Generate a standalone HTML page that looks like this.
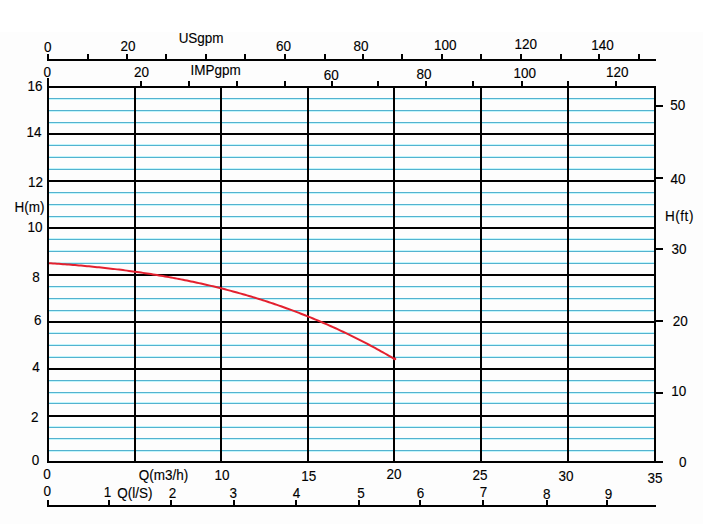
<!DOCTYPE html>
<html><head><meta charset="utf-8"><style>
html,body{margin:0;padding:0;background:#fff;}
body{width:703px;height:524px;overflow:hidden;}
svg{display:block;}
text{font-family:"Liberation Sans",Arial,sans-serif;font-size:13.5px;fill:#000;text-anchor:middle;stroke:#000;stroke-width:0.12px;}
</style></head><body>
<svg width="703" height="524" viewBox="0 0 703 524">
<rect x="0" y="0" width="703" height="524" fill="#fff"/>
<rect x="0" y="32" width="703" height="492" fill="#fdfdfd"/>
<g shape-rendering="crispEdges">
<rect x="49" y="99" width="605" height="1" fill="#c2f5fb"/>
<rect x="49" y="111" width="605" height="1" fill="#c2f5fb"/>
<rect x="49" y="123" width="605" height="1" fill="#c2f5fb"/>
<rect x="49" y="144" width="605" height="1" fill="#c2f5fb"/>
<rect x="49" y="156" width="605" height="1" fill="#c2f5fb"/>
<rect x="49" y="168" width="605" height="1" fill="#c2f5fb"/>
<rect x="49" y="193" width="605" height="1" fill="#c2f5fb"/>
<rect x="49" y="205" width="605" height="1" fill="#c2f5fb"/>
<rect x="49" y="217" width="605" height="1" fill="#c2f5fb"/>
<rect x="49" y="238" width="605" height="1" fill="#c2f5fb"/>
<rect x="49" y="250" width="605" height="1" fill="#c2f5fb"/>
<rect x="49" y="262" width="605" height="1" fill="#c2f5fb"/>
<rect x="49" y="287" width="605" height="1" fill="#c2f5fb"/>
<rect x="49" y="299" width="605" height="1" fill="#c2f5fb"/>
<rect x="49" y="311" width="605" height="1" fill="#c2f5fb"/>
<rect x="49" y="332" width="605" height="1" fill="#c2f5fb"/>
<rect x="49" y="344" width="605" height="1" fill="#c2f5fb"/>
<rect x="49" y="356" width="605" height="1" fill="#c2f5fb"/>
<rect x="49" y="381" width="605" height="1" fill="#c2f5fb"/>
<rect x="49" y="393" width="605" height="1" fill="#c2f5fb"/>
<rect x="49" y="402" width="605" height="1" fill="#c2f5fb"/>
<rect x="49" y="426" width="605" height="1" fill="#c2f5fb"/>
<rect x="49" y="439" width="605" height="1" fill="#c2f5fb"/>
<rect x="49" y="451" width="605" height="1" fill="#c2f5fb"/>
<rect x="49" y="98" width="605" height="1" fill="#52b2cf"/>
<rect x="49" y="110" width="605" height="1" fill="#52b2cf"/>
<rect x="49" y="122" width="605" height="1" fill="#52b2cf"/>
<rect x="49" y="145" width="605" height="1" fill="#52b2cf"/>
<rect x="49" y="157" width="605" height="1" fill="#52b2cf"/>
<rect x="49" y="169" width="605" height="1" fill="#52b2cf"/>
<rect x="49" y="192" width="605" height="1" fill="#52b2cf"/>
<rect x="49" y="204" width="605" height="1" fill="#52b2cf"/>
<rect x="49" y="216" width="605" height="1" fill="#52b2cf"/>
<rect x="49" y="239" width="605" height="1" fill="#52b2cf"/>
<rect x="49" y="251" width="605" height="1" fill="#52b2cf"/>
<rect x="49" y="263" width="605" height="1" fill="#52b2cf"/>
<rect x="49" y="286" width="605" height="1" fill="#52b2cf"/>
<rect x="49" y="298" width="605" height="1" fill="#52b2cf"/>
<rect x="49" y="310" width="605" height="1" fill="#52b2cf"/>
<rect x="49" y="333" width="605" height="1" fill="#52b2cf"/>
<rect x="49" y="345" width="605" height="1" fill="#52b2cf"/>
<rect x="49" y="357" width="605" height="1" fill="#52b2cf"/>
<rect x="49" y="380" width="605" height="1" fill="#52b2cf"/>
<rect x="49" y="392" width="605" height="1" fill="#52b2cf"/>
<rect x="49" y="403" width="605" height="1" fill="#52b2cf"/>
<rect x="49" y="427" width="605" height="1" fill="#52b2cf"/>
<rect x="49" y="438" width="605" height="1" fill="#52b2cf"/>
<rect x="49" y="450" width="605" height="1" fill="#52b2cf"/>
<rect x="47" y="86" width="609" height="2" fill="#000"/>
<rect x="47" y="133" width="609" height="2" fill="#000"/>
<rect x="47" y="180" width="609" height="2" fill="#000"/>
<rect x="47" y="227" width="609" height="2" fill="#000"/>
<rect x="47" y="274" width="609" height="2" fill="#000"/>
<rect x="47" y="321" width="609" height="2" fill="#000"/>
<rect x="47" y="368" width="609" height="2" fill="#000"/>
<rect x="47" y="415" width="609" height="2" fill="#000"/>
<rect x="47" y="461" width="616" height="2" fill="#000"/>
<rect x="47" y="86" width="2" height="377" fill="#000"/>
<rect x="134" y="86" width="2" height="377" fill="#000"/>
<rect x="220" y="86" width="2" height="377" fill="#000"/>
<rect x="307" y="86" width="2" height="377" fill="#000"/>
<rect x="393" y="86" width="2" height="377" fill="#000"/>
<rect x="480" y="86" width="2" height="377" fill="#000"/>
<rect x="567" y="86" width="2" height="377" fill="#000"/>
<rect x="654" y="86" width="2" height="377" fill="#000"/>
<rect x="47" y="78" width="2" height="8" fill="#000"/>
<rect x="140" y="81" width="2" height="5" fill="#000"/>
<rect x="188" y="81" width="2" height="5" fill="#000"/>
<rect x="236" y="81" width="2" height="5" fill="#000"/>
<rect x="284" y="81" width="2" height="5" fill="#000"/>
<rect x="331" y="81" width="2" height="5" fill="#000"/>
<rect x="377" y="81" width="2" height="5" fill="#000"/>
<rect x="425" y="81" width="2" height="5" fill="#000"/>
<rect x="472" y="81" width="2" height="5" fill="#000"/>
<rect x="521" y="81" width="2" height="5" fill="#000"/>
<rect x="567" y="81" width="2" height="5" fill="#000"/>
<rect x="615" y="81" width="2" height="5" fill="#000"/>
<rect x="47" y="59" width="609" height="2" fill="#000"/>
<rect x="47" y="54" width="2" height="5" fill="#000"/>
<rect x="87" y="54" width="2" height="5" fill="#000"/>
<rect x="126" y="54" width="2" height="5" fill="#000"/>
<rect x="165" y="54" width="2" height="5" fill="#000"/>
<rect x="205" y="54" width="2" height="5" fill="#000"/>
<rect x="244" y="54" width="2" height="5" fill="#000"/>
<rect x="284" y="54" width="2" height="5" fill="#000"/>
<rect x="324" y="54" width="2" height="5" fill="#000"/>
<rect x="362" y="54" width="2" height="5" fill="#000"/>
<rect x="401" y="54" width="2" height="5" fill="#000"/>
<rect x="441" y="54" width="2" height="5" fill="#000"/>
<rect x="480" y="54" width="2" height="5" fill="#000"/>
<rect x="520" y="54" width="2" height="5" fill="#000"/>
<rect x="560" y="54" width="2" height="5" fill="#000"/>
<rect x="598" y="54" width="2" height="5" fill="#000"/>
<rect x="638" y="54" width="2" height="5" fill="#000"/>
<rect x="656" y="105" width="7" height="2" fill="#000"/>
<rect x="656" y="177" width="7" height="2" fill="#000"/>
<rect x="656" y="248" width="7" height="2" fill="#000"/>
<rect x="656" y="320" width="7" height="2" fill="#000"/>
<rect x="656" y="392" width="7" height="2" fill="#000"/>
<rect x="47" y="505" width="609" height="2" fill="#000"/>
<rect x="47" y="500" width="2" height="5" fill="#000"/>
<rect x="108" y="500" width="2" height="5" fill="#000"/>
<rect x="170" y="500" width="2" height="5" fill="#000"/>
<rect x="233" y="500" width="2" height="5" fill="#000"/>
<rect x="295" y="500" width="2" height="5" fill="#000"/>
<rect x="358" y="500" width="2" height="5" fill="#000"/>
<rect x="419" y="500" width="2" height="5" fill="#000"/>
<rect x="482" y="500" width="2" height="5" fill="#000"/>
<rect x="546" y="500" width="2" height="5" fill="#000"/>
<rect x="606" y="500" width="2" height="5" fill="#000"/>
</g>
<polyline points="49.0,263.17 51.0,263.30 53.0,263.44 55.0,263.57 57.0,263.71 59.0,263.85 61.0,264.00 63.0,264.15 65.0,264.30 67.0,264.45 69.0,264.61 71.0,264.77 73.0,264.93 75.0,265.09 77.0,265.26 79.0,265.43 81.0,265.61 83.0,265.79 85.0,265.97 87.0,266.16 89.0,266.34 91.0,266.54 93.0,266.73 95.0,266.93 97.0,267.13 99.0,267.34 101.0,267.55 103.0,267.76 105.0,267.98 107.0,268.20 109.0,268.43 111.0,268.66 113.0,268.89 115.0,269.13 117.0,269.37 119.0,269.61 121.0,269.86 123.0,270.11 125.0,270.37 127.0,270.63 129.0,270.90 131.0,271.17 133.0,271.44 135.0,271.72 137.0,272.00 139.0,272.29 141.0,272.58 143.0,272.87 145.0,273.17 147.0,273.48 149.0,273.79 151.0,274.10 153.0,274.42 155.0,274.74 157.0,275.07 159.0,275.40 161.0,275.74 163.0,276.08 165.0,276.43 167.0,276.78 169.0,277.14 171.0,277.50 173.0,277.87 175.0,278.24 177.0,278.62 179.0,279.00 181.0,279.39 183.0,279.79 185.0,280.18 187.0,280.59 189.0,281.00 191.0,281.41 193.0,281.83 195.0,282.26 197.0,282.69 199.0,283.12 201.0,283.57 203.0,284.02 205.0,284.47 207.0,284.93 209.0,285.39 211.0,285.86 213.0,286.34 215.0,286.82 217.0,287.31 219.0,287.81 221.0,288.31 223.0,288.81 225.0,289.33 227.0,289.85 229.0,290.37 231.0,290.90 233.0,291.44 235.0,291.98 237.0,292.53 239.0,293.09 241.0,293.65 243.0,294.22 245.0,294.80 247.0,295.38 249.0,295.97 251.0,296.56 253.0,297.16 255.0,297.77 257.0,298.39 259.0,299.01 261.0,299.64 263.0,300.27 265.0,300.92 267.0,301.57 269.0,302.22 271.0,302.88 273.0,303.56 275.0,304.23 277.0,304.92 279.0,305.61 281.0,306.31 283.0,307.01 285.0,307.73 287.0,308.45 289.0,309.17 291.0,309.91 293.0,310.65 295.0,311.40 297.0,312.16 299.0,312.92 301.0,313.70 303.0,314.48 305.0,315.27 307.0,316.06 309.0,316.86 311.0,317.68 313.0,318.49 315.0,319.32 317.0,320.16 319.0,321.00 321.0,321.85 323.0,322.71 325.0,323.57 327.0,324.45 329.0,325.33 331.0,326.22 333.0,327.12 335.0,328.03 337.0,328.94 339.0,329.87 341.0,330.80 343.0,331.74 345.0,332.69 347.0,333.65 349.0,334.61 351.0,335.59 353.0,336.57 355.0,337.56 357.0,338.56 359.0,339.57 361.0,340.59 363.0,341.62 365.0,342.65 367.0,343.70 369.0,344.75 371.0,345.81 373.0,346.88 375.0,347.96 377.0,349.05 379.0,350.15 381.0,351.26 383.0,352.37 385.0,353.50 387.0,354.64 389.0,355.78 391.0,356.93 393.0,358.10 395.0,359.27 395.0,359.27" fill="none" stroke="#e3202e" stroke-width="2.0" stroke-linejoin="round" stroke-linecap="butt"/>
<circle cx="394.9" cy="358.9" r="1.4" fill="#e3202e"/>
<g>
<text transform="translate(47.7,51.5) scale(1,1.03)">0</text>
<text transform="translate(127.9,51.4) scale(1,1.03)">20</text>
<text transform="translate(201.1,43.0) scale(1,1.03)">USgpm</text>
<text transform="translate(283.4,50.8) scale(1,1.03)">60</text>
<text transform="translate(361.1,50.6) scale(1,1.03)">80</text>
<text transform="translate(445.2,50.0) scale(1,1.03)">100</text>
<text transform="translate(525.8,48.9) scale(1,1.03)">120</text>
<text transform="translate(602.5,50.2) scale(1,1.03)">140</text>
<text transform="translate(47.2,76.9) scale(1,1.03)">0</text>
<text transform="translate(141.4,77.3) scale(1,1.03)">20</text>
<text transform="translate(215.7,74.7) scale(1,1.03)">IMPgpm</text>
<text transform="translate(331.2,79.7) scale(1,1.03)">60</text>
<text transform="translate(424.1,78.9) scale(1,1.03)">80</text>
<text transform="translate(524.8,77.7) scale(1,1.03)">100</text>
<text transform="translate(617.3,77.0) scale(1,1.03)">120</text>
<text transform="translate(35.0,91.1) scale(1,1.03)">16</text>
<text transform="translate(34.0,137.3) scale(1,1.03)">14</text>
<text transform="translate(35.5,186.8) scale(1,1.03)">12</text>
<text transform="translate(29.5,212.3) scale(1,1.03)">H(m)</text>
<text transform="translate(35.1,232.0) scale(1,1.03)">10</text>
<text transform="translate(36.0,281.5) scale(1,1.03)">8</text>
<text transform="translate(37.7,324.9) scale(1,1.03)">6</text>
<text transform="translate(36.1,372.0) scale(1,1.03)">4</text>
<text transform="translate(34.7,421.5) scale(1,1.03)">2</text>
<text transform="translate(35.5,465.1) scale(1,1.03)">0</text>
<text transform="translate(677.7,110.3) scale(1,1.03)">50</text>
<text transform="translate(678.0,183.7) scale(1,1.03)">40</text>
<text transform="translate(679.2,221.1) scale(1,1.03)" textLength="28.4" lengthAdjust="spacing">H(ft)</text>
<text transform="translate(679.0,253.8) scale(1,1.03)">30</text>
<text transform="translate(680.2,326.1) scale(1,1.03)">20</text>
<text transform="translate(678.8,395.8) scale(1,1.03)">10</text>
<text transform="translate(682.7,467.0) scale(1,1.03)">0</text>
<text transform="translate(47.0,479.1) scale(1,1.03)">0</text>
<text transform="translate(163.4,479.9) scale(1,1.03)">Q(m3/h)</text>
<text transform="translate(222.0,479.9) scale(1,1.03)">10</text>
<text transform="translate(308.7,481.0) scale(1,1.03)">15</text>
<text transform="translate(394.1,479.1) scale(1,1.03)">20</text>
<text transform="translate(480.1,480.2) scale(1,1.03)">25</text>
<text transform="translate(566.0,481.0) scale(1,1.03)">30</text>
<text transform="translate(655.0,482.8) scale(1,1.03)">35</text>
<text transform="translate(47.2,495.9) scale(1,1.03)">0</text>
<text transform="translate(107.6,497.3) scale(1,1.03)">1</text>
<text transform="translate(134.9,498.2) scale(1,1.03)">Q(l/S)</text>
<text transform="translate(172.4,498.2) scale(1,1.03)">2</text>
<text transform="translate(233.3,498.3) scale(1,1.03)">3</text>
<text transform="translate(296.4,497.8) scale(1,1.03)">4</text>
<text transform="translate(361.0,498.2) scale(1,1.03)">5</text>
<text transform="translate(420.4,498.3) scale(1,1.03)">6</text>
<text transform="translate(483.4,497.1) scale(1,1.03)">7</text>
<text transform="translate(546.8,499.0) scale(1,1.03)">8</text>
<text transform="translate(608.5,499.0) scale(1,1.03)">9</text>
</g>
</svg>
</body></html>
